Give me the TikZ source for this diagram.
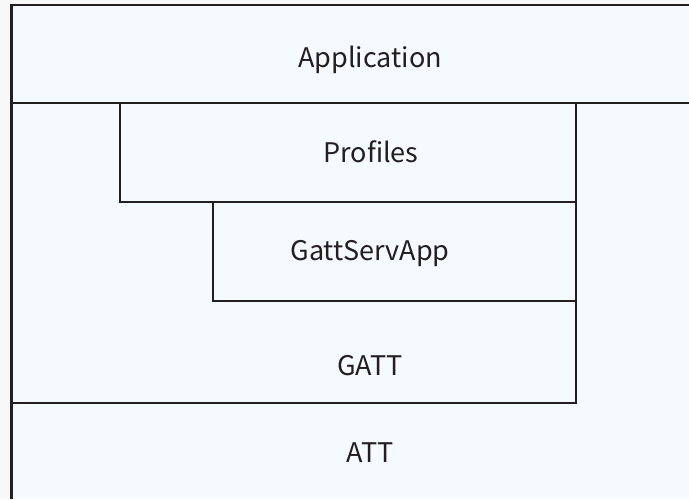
\documentclass[tikz,border=0pt]{standalone}
\usepackage{fontspec}
\setmainfont{Noto Sans CJK SC}
\definecolor{bgout}{HTML}{F8F8F8}
\definecolor{bgin}{HTML}{F5FAFF}
\definecolor{ink}{HTML}{231F20}
\begin{document}
\begin{tikzpicture}[x=1pt,y=-1pt,
  wall/.style={draw=ink,line width=2.5pt},
  lbl/.style={anchor=base,text=ink,font=\fontsize{27}{30}\selectfont,inner sep=0pt}]
\useasboundingbox (0,0) rectangle (689,499);
\fill[bgout] (0,0) rectangle (689,499);
\fill[bgin] (11.5,5) rectangle (689,499);
% outer frame
\draw[wall] (689,5) -- (11.5,5) -- (11.5,499);
\draw[wall] (11.5,103) -- (689,103);
% profiles
\draw[wall] (120,103) -- (120,202) -- (576,202);
\draw[wall] (576,103) -- (576,403) -- (11.5,403);
% gattservapp
\draw[wall] (213,202) -- (213,301) -- (576,301);
\node[lbl] (app) at (370,67) {Application};
\node[lbl] (prof) at (371,162) {Profiles};
\node[lbl] (gsa) at (370,260) {GattServApp};
\node[lbl] (gatt) at (370,375) {GATT};
\node[lbl] (att) at (370,462) {ATT};
\end{tikzpicture}
\end{document}
